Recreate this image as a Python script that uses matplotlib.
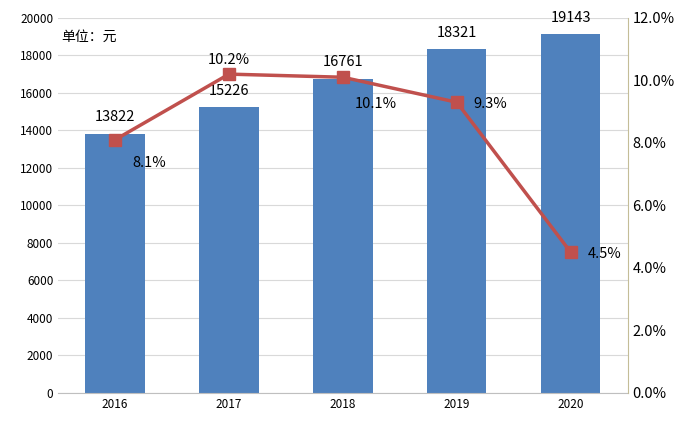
import matplotlib.pyplot as plt
from matplotlib.ticker import FuncFormatter

plt.rcParams['font.family'] = ['Noto Sans CJK SC', 'DejaVu Sans']

years = ['2016', '2017', '2018', '2019', '2020']
income = [13822, 15226, 16761, 18321, 19143]
growth = [8.1, 10.2, 10.1, 9.3, 4.5]

fig = plt.figure(figsize=(6.92, 4.36), dpi=100)
ax = fig.add_axes([0.084, 0.099, 0.823, 0.86])
x = range(len(years))
ax.bar(x, income, width=0.52, color='#4F81BD', zorder=2)
ax.set_ylim(0, 20000)
ax.set_yticks(range(0, 20001, 2000))
ax.set_xlim(-0.5, 4.5)
ax.set_xticks(list(x))
ax.set_xticklabels(years)
ax.grid(axis='y', color='#D9D9D9', lw=0.8, zorder=0)
for s in ['top', 'left', 'right']:
    ax.spines[s].set_visible(False)
ax.spines['bottom'].set_color('#BFBFBF')
ax.tick_params(length=0, labelsize=8.5)
for i, v in enumerate(income):
    ax.text(i, v + 500, str(v), ha='center', va='bottom', fontsize=10.5)
ax.text(-0.47, 19000, '单位：元', fontsize=10, va='center')

ax2 = ax.twinx()
ax2.plot(list(x), growth, color='#C0504D', lw=2.5, marker='s', ms=8, zorder=3)
ax2.set_ylim(0, 12)
ax2.set_yticks(range(0, 13, 2))
ax2.yaxis.set_major_formatter(FuncFormatter(lambda v, p: f'{v:.1f}%'))
ax2.tick_params(length=0, labelsize=10.5)
for s in ['top', 'left', 'bottom']:
    ax2.spines[s].set_visible(False)
ax2.spines['right'].set_color('#C4BD97')
offs = [(0.15, -0.75, 'left'), (0, 0.45, 'center'), (0.1, -0.85, 'left'),
        (0.15, -0.05, 'left'), (0.15, -0.05, 'left')]
for i, g in enumerate(growth):
    dx, dy, ha = offs[i]
    ax2.text(i + dx, g + dy, f'{g}%', ha=ha, va='center', fontsize=10.5)

fig.savefig('out.png', dpi=100)
